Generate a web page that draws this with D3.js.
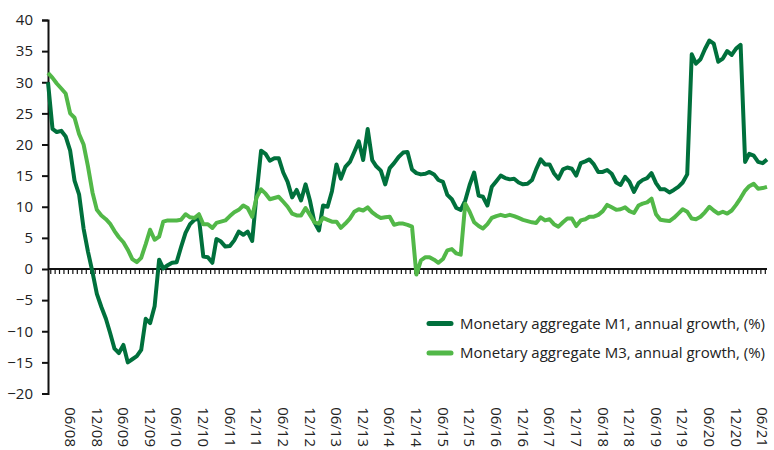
<!DOCTYPE html>
<html>
<head>
<meta charset="utf-8">
<script src="https://cdn.jsdelivr.net/npm/d3@7"></script>
<style>
  body { margin: 0; background: #fff; }
  text { font-family: "Open Sans", "Noto Sans", sans-serif; fill: #222; }
</style>
</head>
<body>
<div id="chart"></div>
<script>
// Dimensions
const width = 774;
const height = 450;

// Monthly observations, Jan 2008 .. Jul 2021
const firstMonth = new Date(2008, 0, 1);
const lastMonth = new Date(2021, 6, 1);
const months = d3.timeMonth.range(firstMonth, d3.timeMonth.offset(lastMonth, 1));

// Monetary aggregate M1, annual growth (%)
const m1Values = [
  30, 22.5, 22, 22.2, 21.3, 19, 14.2, 12, 6.5, 2.8, -0.5, -4,
  -6.1, -8, -10.2, -12.8, -13.5, -12.2, -15, -14.5, -14, -13, -8, -8.7,
  -6, 1.5, 0.1, 0.6, 1, 1.1, 3.5, 5.8, 7.2, 7.9, 8.1, 2,
  1.9, 1, 4.8, 4.4, 3.6, 3.7, 4.6, 6, 5.5, 6, 4.5, 12,
  19, 18.5, 17.4, 17.8, 17.8, 15.5, 14, 11.5, 12.7, 11, 13.6, 11,
  7.5, 6.2, 10.2, 10, 12.5, 16.8, 14.5, 16.4, 17.2, 18.8, 20.5, 17.5,
  22.5, 17.5, 16.5, 15.8, 13.6, 16.2, 17, 18, 18.7, 18.8, 16, 15.4,
  15.2, 15.3, 15.6, 15.2, 14.3, 14, 11.9, 11.2, 9.8, 9.5, 11, 13.5,
  15.5, 11.8, 11.6, 10.2, 13.2, 14.1, 15, 14.6, 14.4, 14.5, 13.9, 13.6,
  13.7, 14.3, 16, 17.6, 16.8, 16.8, 15.4, 14.5, 16, 16.3, 16.1, 15,
  17, 17.3, 17.6, 16.8, 15.6, 15.6, 15.9, 15.3, 13.9, 13.5, 14.8, 14,
  12.4, 13.8, 14.3, 14.6, 15.4, 13.8, 12.8, 12.8, 12.3, 12.7, 13.2, 13.9,
  15.2, 34.5, 33, 33.7, 35.3, 36.7, 36.2, 33.3, 33.8, 35, 34.4, 35.4,
  36, 17.2, 18.5, 18.2, 17.2, 17, 17.6
];

// Monetary aggregate M3, annual growth (%)
const m3Values = [
  31.5, 30.7, 29.8, 29, 28.2, 25, 24.3, 21.7, 20, 16.5, 12.3, 9.5,
  8.6, 8, 7.3, 6.1, 5.1, 4.3, 3.1, 1.6, 1.1, 1.8, 4, 6.3,
  4.7, 5.2, 7.6, 7.8, 7.8, 7.8, 7.9, 8.8, 8.3, 8.2, 8.8, 7.2,
  7.2, 6.6, 7.4, 7.6, 7.8, 8.5, 9.1, 9.5, 10.2, 9.8, 8.4, 11.5,
  12.8, 12.1, 11.2, 11.4, 11.6, 10.8, 10, 8.9, 8.6, 8.6, 9.8, 8.7,
  7.5, 7.3, 8.2, 7.9, 7.6, 7.6, 6.6, 7.3, 8.1, 9.2, 9.6, 9.4,
  9.9, 9.1, 8.6, 8.2, 8.3, 8.4, 7.1, 7.3, 7.3, 7.1, 6.8, -0.9,
  1.4, 1.9, 1.9, 1.5, 1, 1.6, 3, 3.2, 2.5, 2.3, 10.5, 9.2,
  7.5, 6.9, 6.5, 7.2, 8.2, 8.5, 8.7, 8.5, 8.7, 8.5, 8.2, 7.9,
  7.7, 7.5, 7.4, 8.3, 7.8, 8, 7.2, 6.8, 7.5, 8.1, 8.1, 6.9,
  7.8, 8, 8.4, 8.4, 8.7, 9.3, 10.3, 9.9, 9.5, 9.6, 9.9, 9.3,
  9, 10.2, 10.5, 10.7, 11.3, 8.8, 7.9, 7.8, 7.7, 8.2, 8.9, 9.6,
  9.2, 8.1, 8, 8.4, 9.1, 10, 9.4, 8.9, 9.2, 8.9, 9.4, 10.3,
  11.4, 12.6, 13.3, 13.7, 12.9, 13, 13.2
];

// Axis labels
const yTicks = [-20, -15, -10, -5, 0, 5, 10, 15, 20, 25, 30, 35, 40];
const xTickLabels = [
  "06/08", "12/08", "06/09", "12/09", "06/10", "12/10", "06/11", "12/11",
  "06/12", "12/12", "06/13", "12/13", "06/14", "12/14", "06/15", "12/15",
  "06/16", "12/16", "06/17", "12/17", "06/18", "12/18", "06/19", "12/19",
  "06/20", "12/20", "06/21"
];

const seriesNames = [
  "Monetary aggregate M1, annual growth, (%)",
  "Monetary aggregate M3, annual growth, (%)"
];
const seriesColors = ["#00703c", "#52b848"];

const svg = d3.select("#chart")
  .append("svg")
  .attr("width", width)
  .attr("height", height);

const x = d3.scaleTime()
  .domain([firstMonth, lastMonth])
  .range([48, 767]);

const y = d3.scaleLinear()
  .domain([-20, 40])
  .range([393.5, 20]);

// Y axis
const yAxis = svg.append("g")
  .attr("transform", "translate(48,0)")
  .call(d3.axisLeft(y).tickValues(yTicks).tickSize(6).tickPadding(9).tickFormat(d3.format("d")));
yAxis.select(".domain").attr("stroke", "#111").attr("stroke-width", 2);
yAxis.selectAll(".tick line").attr("stroke", "#111").attr("stroke-width", 2);
yAxis.selectAll("text")
  .style("font-size", "15px")
  .style("fill", "#222")
  .attr("font-family", null);

// X axis on zero line, minor ticks between months
const midTicks = months.slice(1).map((d, i) => new Date((+months[i] + +d) / 2));
const xAxis = svg.append("g")
  .attr("transform", `translate(0,${y(0)})`)
  .call(d3.axisBottom(x).tickValues(midTicks).tickSize(5).tickFormat(""));
xAxis.select(".domain")
  .attr("stroke", "#111")
  .attr("stroke-width", 2)
  .attr("d", `M48,0H767`);
xAxis.selectAll(".tick line").attr("stroke", "#111").attr("stroke-width", 1.2);

// Rotated date labels
const parseLabel = d3.timeParse("%m/%y");
svg.append("g")
  .selectAll("text")
  .data(xTickLabels)
  .enter().append("text")
  .attr("transform", d => `translate(${x(parseLabel(d))},447) rotate(90)`)
  .attr("dy", "0.35em")
  .style("text-anchor", "end")
  .style("font-size", "15px")
  .text(d => d);

// Lines
const line = d3.line()
  .x((d, i) => x(months[i]))
  .y(d => y(d));

[m1Values, m3Values].forEach((vals, k) => {
  svg.append("path")
    .datum(vals)
    .attr("fill", "none")
    .attr("stroke", seriesColors[k])
    .attr("stroke-width", 4)
    .attr("stroke-linejoin", "round")
    .attr("d", line);
});

// Legend
const legend = svg.append("g")
  .selectAll("g")
  .data(seriesNames)
  .enter().append("g")
  .attr("transform", (d, i) => `translate(428, ${323.5 + i * 29.5})`);

legend.append("line")
  .attr("x1", 1)
  .attr("x2", 23)
  .attr("stroke", (d, i) => seriesColors[i])
  .attr("stroke-width", 5)
  .attr("stroke-linecap", "round");

legend.append("text")
  .attr("x", 32)
  .attr("dy", "0.35em")
  .style("font-size", "15px")
  .text(d => d);
</script>
</body>
</html>
